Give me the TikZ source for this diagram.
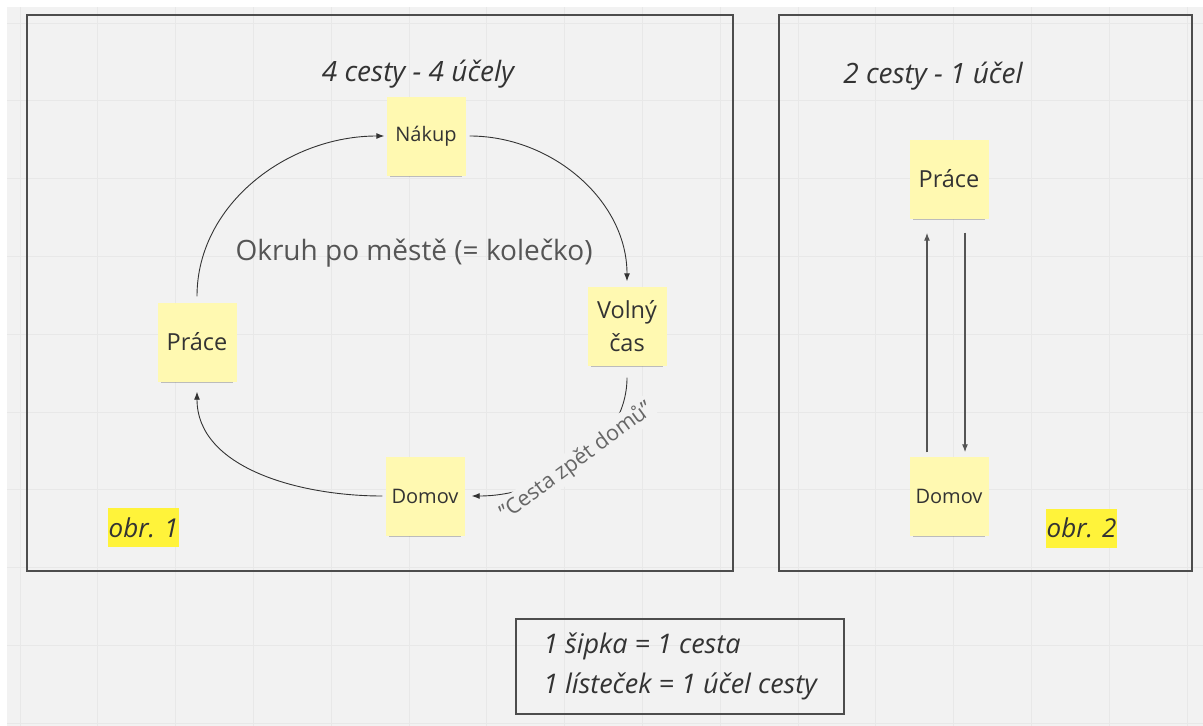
\documentclass[tikz,border=0pt]{standalone}
\usepackage{fontspec}
\setmainfont{Open Sans}
\usepackage{xcolor}
\usepackage{tikz}
\usetikzlibrary{positioning,arrows.meta,shadows}

\definecolor{boardbg}{HTML}{F2F2F2}
\definecolor{gridline}{HTML}{E8E8E8}
\definecolor{notebg}{HTML}{FFF9B1}
\definecolor{marker}{HTML}{FFF33A}
\definecolor{inkdark}{HTML}{333333}
\definecolor{inkgray}{HTML}{555555}
\definecolor{framegray}{HTML}{4D4D4D}

\begin{document}
\begin{tikzpicture}[x=1pt, y=1pt,
  note/.style={fill=notebg, minimum width=79pt, minimum height=79pt, inner sep=2pt,
    align=center, text=inkdark,
    drop shadow={shadow xshift=0pt, shadow yshift=-6pt, shadow scale=0.9, opacity=0.22, fill=black}},
  smalltext/.style={font=\fontsize{20}{24}\selectfont},
  bigtext/.style={font=\fontsize{23.5}{33}\selectfont},
  trip/.style={-{Latex[length=8pt,width=6pt]}, inkdark, line width=0.9pt},
  boxtitle/.style={font=\fontsize{28}{32}\selectfont\itshape, text=inkdark},
  figlabel/.style={fill=marker, inner xsep=1pt, minimum height=39pt,
    font=\fontsize{26}{30}\selectfont\itshape, text=inkdark}]
  \useasboundingbox (0,0) rectangle (1203,-726);

  % board and its grid
  \fill[white] (0,0) rectangle (1203,-726);
  \fill[boardbg] (7,-7) rectangle (1203,-726);
  \foreach \k in {0,...,15} {
    \draw[gridline, line width=1pt] ({20+77.8*\k},-7) -- ({20+77.8*\k},-726);
  }
  \foreach \k in {0,...,9} {
    \draw[gridline, line width=1pt] (7,{-23-77.8*\k}) -- (1203,{-23-77.8*\k});
  }

  % frames
  \draw[framegray, line width=1.6pt] (27,-15) rectangle (733,-571);
  \draw[framegray, line width=1.6pt] (779,-15) rectangle (1192,-571);

  % obr. 1: the round trip
  \node[note, smalltext] (nakup) at (426,-136) {Nákup};
  \node[note, bigtext] (volny) at (627,-326) {Volný\\čas};
  \node[note, bigtext] (prace) at (197,-342) {Práce};
  \node[note, smalltext] (domov) at (425,-496) {Domov};

  \node[boxtitle] (titleA) at (418,-74) {4 cesty - 4 účely};
  \node[font=\fontsize{28}{32}\selectfont, text=inkgray] (okruh) at (414,-253) {Okruh po městě (= kolečko)};
  \node[figlabel] (obr1) at (143.5,-527.5) {obr. 1};

  \draw[trip, shorten <=6pt, shorten >=2pt] (prace.north) to[out=90, in=180] (nakup.west);
  \draw[trip, shorten <=4pt, shorten >=5pt] (nakup.east) to[out=0, in=90] (volny.north);
  \draw[trip, shorten <=12pt, shorten >=7pt] (volny.south) to[out=-90, in=0]
    node[sloped, fill=boardbg, inner sep=2pt, text=inkgray!90, font=\fontsize{21.5}{24}\selectfont] (zpet) {"Cesta zpět domů"}
    (domov.east);
  \draw[trip, shorten <=3pt, shorten >=10pt] (domov.west) to[out=180, in=-90] (prace.south);

  % obr. 2: there and back
  \node[note, bigtext] (prace2) at (949,-179) {Práce};
  \node[note, smalltext] (domov2) at (949,-496) {Domov};

  \node[boxtitle] (titleB) at (933,-76) {2 cesty - 1 účel};
  \node[figlabel] (obr2) at (1081.5,-528) {obr. 2};

  \draw[trip, inkgray, line width=1.2pt, shorten <=4pt, shorten >=14pt]
    ([xshift=-22pt]domov2.north) -- ([xshift=-22pt]prace2.south);
  \draw[trip, inkgray, line width=1.2pt, shorten <=14pt, shorten >=4pt]
    ([xshift=16pt]prace2.south) -- ([xshift=16pt]domov2.north);

  % legend
  \node[draw=framegray, line width=1.6pt, minimum width=328pt, inner xsep=0pt,
    minimum height=95pt, align=left, text=inkdark,
    font=\fontsize{27}{40}\selectfont\itshape] (legend) at (680,-666.5)
    {1 šipka = 1 cesta\\1 lísteček = 1 účel cesty};
\end{tikzpicture}
\end{document}
